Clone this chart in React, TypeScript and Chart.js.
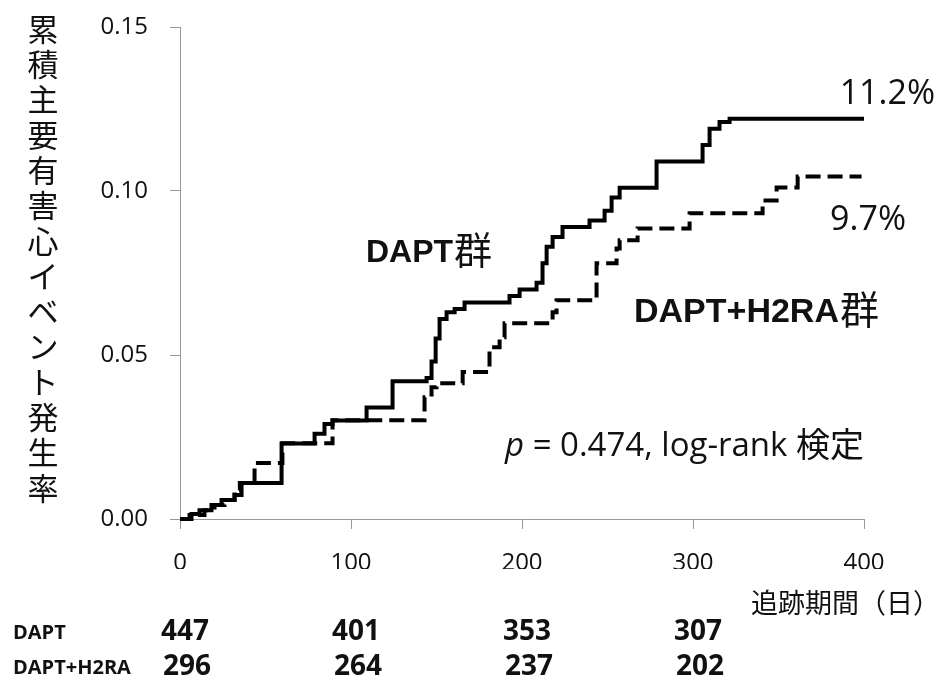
import React, { useEffect, useRef } from "react";
import { Chart, registerables } from "chart.js";

Chart.register(...registerables);

// ---- data ----
const daptDays = [0, 6.7, 11.4, 18.4, 24.3, 31.9, 36.0, 59.4, 78.7, 84.5, 89.2, 109.1, 124.3, 144.2, 147.1, 149.5, 151.8, 155.9, 160.6, 166.4, 192.7, 198.6, 208.5, 212.0, 214.4, 217.9, 223.7, 239.5, 248.3, 252.4, 257.1, 278.7, 305.6, 309.7, 315.5, 321.4, 400];
const daptRates = [0, 0.0015, 0.0027, 0.0043, 0.0058, 0.0073, 0.011, 0.023, 0.026, 0.029, 0.030, 0.034, 0.042, 0.043, 0.048, 0.055, 0.061, 0.063, 0.064, 0.066, 0.068, 0.070, 0.072, 0.078, 0.083, 0.086, 0.089, 0.091, 0.094, 0.098, 0.101, 0.109, 0.114, 0.119, 0.121, 0.122, 0.122];

const h2raDays = [0, 5.6, 14.3, 20.2, 26.0, 31.9, 35.0, 43.6, 59.9, 89.2, 143.0, 147.1, 150.0, 165.3, 181.0, 186.9, 189.8, 217.9, 220.2, 243.6, 255.3, 257.1, 267.6, 298.0, 340.7, 348.9, 361.2, 398.6];
const h2raRates = [0, 0.0012, 0.0027, 0.0043, 0.0058, 0.0088, 0.011, 0.0171, 0.0231, 0.0301, 0.0371, 0.0402, 0.0414, 0.0448, 0.0524, 0.0554, 0.0597, 0.0630, 0.0667, 0.0780, 0.0825, 0.0850, 0.0886, 0.0932, 0.0971, 0.1011, 0.1044, 0.1044];

const xTickValues = [0, 100, 200, 300, 400];
const yTickValues = [0, 0.05, 0.1, 0.15];

const riskDays = [0, 100, 200, 300];
const riskDapt = [447, 401, 353, 307];
const riskH2ra = [296, 264, 237, 202];
const groupNames = ["DAPT", "DAPT+H2RA"];

const yTitle = "累積主要有害心イベント発生率";
const xTitle = "追跡期間（日）";
const finalLabels = ["11.2%", "9.7%"];
const pText = [" = 0.474, log-rank ", "検定"];

const CJK = '"Noto Sans CJK JP", sans-serif';
const LATIN = '"Open Sans", sans-serif';
const BOLD = '"Liberation Sans", Arial, sans-serif';

const textPlugin = {
  id: "kmText",
  afterDraw(chart: any) {
    const ctx = chart.ctx as CanvasRenderingContext2D;
    const xs = chart.scales.x;
    ctx.save();
    ctx.fillStyle = "#111";

    // vertical y-axis title (stacked characters)
    ctx.font = `31px ${CJK}`;
    ctx.textAlign = "center";
    ctx.textBaseline = "middle";
    Array.from(yTitle).forEach((ch, i) => ctx.fillText(ch, 43, 29 + i * 35.3));

    // x-axis title
    ctx.textAlign = "right";
    ctx.textBaseline = "middle";
    ctx.font = `27px ${CJK}`;
    ctx.fillText(xTitle, 940, 603);

    // group labels
    ctx.textAlign = "left";
    ctx.textBaseline = "alphabetic";
    ctx.font = `bold 32px ${BOLD}`;
    ctx.fillText(groupNames[0], 366, 262);
    let w = ctx.measureText(groupNames[0]).width;
    ctx.font = `38px ${CJK}`;
    ctx.fillText("群", 366 + w + 1, 264);

    ctx.font = `bold 34px ${BOLD}`;
    ctx.fillText(groupNames[1], 634, 322);
    w = ctx.measureText(groupNames[1]).width;
    ctx.font = `39px ${CJK}`;
    ctx.fillText("群", 634 + w + 1, 324);

    // final percentages
    ctx.textAlign = "right";
    ctx.font = `34px ${LATIN}`;
    ctx.fillText(finalLabels[0], 935, 104);
    ctx.fillText(finalLabels[1], 906, 230);

    // p-value text
    ctx.textAlign = "left";
    let px = 505;
    ctx.font = `italic 33px ${LATIN}`;
    ctx.fillText("p", px, 456);
    px += ctx.measureText("p").width;
    ctx.font = `33px ${LATIN}`;
    ctx.fillText(pText[0], px, 456);
    px += ctx.measureText(pText[0]).width;
    ctx.font = `34px ${CJK}`;
    ctx.fillText(pText[1], px, 457);

    // number at risk table
    ctx.textBaseline = "middle";
    ctx.font = `bold 20px ${LATIN}`;
    ctx.textAlign = "left";
    ctx.fillText(groupNames[0], 13, 633);
    ctx.fillText(groupNames[1], 13, 668);
    ctx.textAlign = "center";
    ctx.font = `bold 28px ${LATIN}`;
    riskDays.forEach((d, i) => {
      const x = xs.getPixelForValue(d) + 5;
      ctx.fillText(String(riskDapt[i]), x, 632);
      ctx.fillText(String(riskH2ra[i]), x + 2, 667);
    });
    ctx.restore();
  },
};

export default function App() {
  const ref = useRef<HTMLCanvasElement | null>(null);
  useEffect(() => {
    if (!ref.current) return;
    const chart = new Chart(ref.current, {
      type: "line",
      data: {
        datasets: [
          {
            label: "DAPT",
            data: daptDays.map((d, i) => ({ x: d, y: daptRates[i] })),
            borderColor: "#000",
            borderWidth: 4,
            pointRadius: 0,
            stepped: "before",
            fill: false,
            clip: false as any,
          },
          {
            label: "DAPT+H2RA",
            data: h2raDays.map((d, i) => ({ x: d, y: h2raRates[i] })),
            borderColor: "#000",
            borderWidth: 4,
            borderDash: [15, 7],
            pointRadius: 0,
            stepped: "before",
            fill: false,
            clip: false as any,
          },
        ],
      },
      options: {
        animation: false,
        responsive: true,
        maintainAspectRatio: false,
        layout: { padding: { left: 0, right: 77, top: 27, bottom: 112 } },
        plugins: { legend: { display: false }, tooltip: { enabled: false } },
        scales: {
          x: {
            type: "linear",
            min: 0,
            max: 400,
            afterBuildTicks: (s: any) => {
              s.ticks = xTickValues.map((v) => ({ value: v }));
            },
            afterFit: (s: any) => {
              s.height = 50;
              s.paddingLeft = 0;
              s.paddingRight = 0;
            },
            grid: { drawOnChartArea: false, drawTicks: true, tickLength: 10, color: "#999" },
            border: { display: true, color: "#999", width: 1 },
            ticks: {
              font: { family: "Open Sans", size: 24 },
              color: "#111",
              padding: 20,
              maxRotation: 0,
              callback: (v: any) => String(v),
            },
          },
          y: {
            type: "linear",
            min: 0,
            max: 0.15,
            afterBuildTicks: (s: any) => {
              s.ticks = yTickValues.map((v) => ({ value: v }));
            },
            afterFit: (s: any) => {
              s.width = 180;
              s.paddingTop = 0;
              s.paddingBottom = 0;
            },
            grid: { drawOnChartArea: false, drawTicks: true, tickLength: 10, color: "#999" },
            border: { display: true, color: "#999", width: 1 },
            ticks: {
              font: { family: "Open Sans", size: 24 },
              color: "#111",
              padding: 22,
              callback: (v: any) => Number(v).toFixed(2),
            },
          },
        },
      },
      plugins: [textPlugin],
    });
    return () => chart.destroy();
  }, []);
  return (
    <div style={{ position: "absolute", left: 0, top: 0, width: 941, height: 681, background: "#fff" }}>
      <canvas ref={ref} />
    </div>
  );
}
